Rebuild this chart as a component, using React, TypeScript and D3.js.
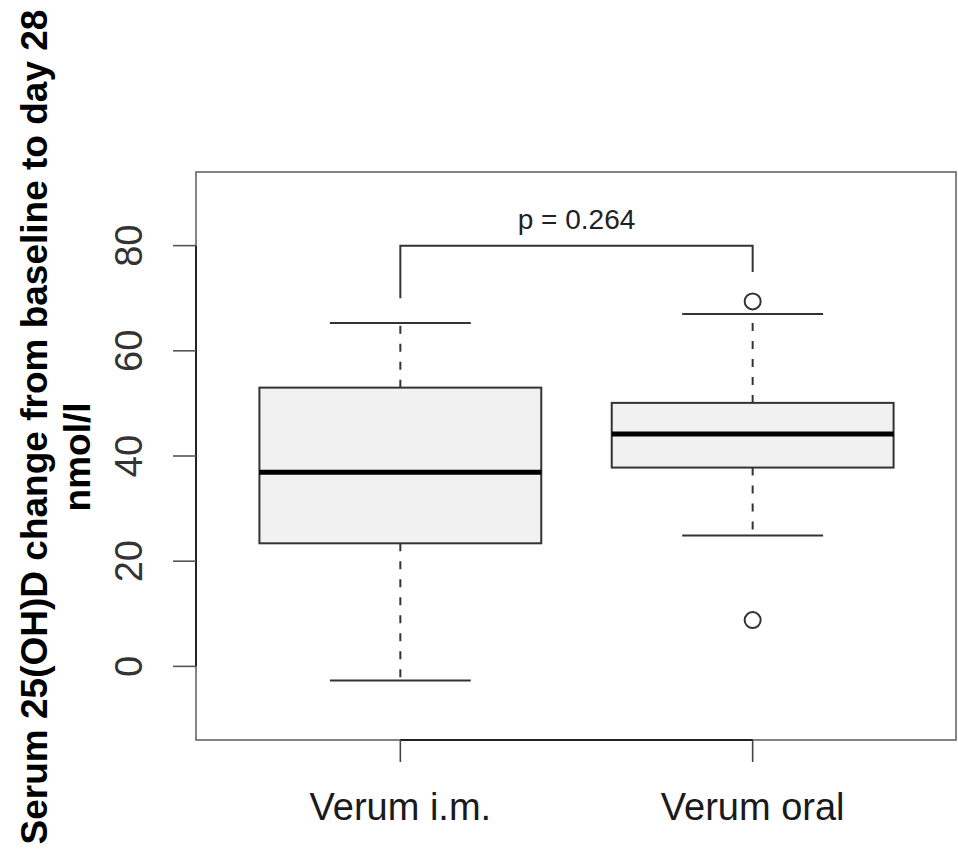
import React from "react";
import * as d3 from "d3";

const categories = ["Verum i.m.", "Verum oral"];
const whiskerLow = [-2.7, 24.9];
const q1 = [23.4, 37.8];
const median = [36.9, 44.2];
const q3 = [53.0, 50.1];
const whiskerHigh = [65.3, 67.0];
const outliers: number[][] = [[], [69.4, 8.8]];
const yTicks = [0, 20, 40, 60, 80];
const pLabel = "p = 0.264";
const bracketTop = 80;
const bracketLegs = [70, 75];
const pLabelY = 85;
const yTitle1 = "Serum 25(OH)D change from baseline to day 28";
const yTitle2 = "nmol/l";

const W = 958;
const H = 849;
const left = 196;
const right = 957;
const top = 172;
const bottom = 740;

export default function App() {
  const x = d3.scaleLinear().domain([0.42, 2.58]).range([left, right]);
  const y = d3.scaleLinear().domain([-14, 94]).range([bottom, top]);
  const unit = x(2) - x(1);
  const halfBox = 0.4 * unit;
  const halfCap = 0.2 * unit;
  const font = "'Liberation Sans', Arial, Helvetica, sans-serif";
  const dark = "#222";
  return (
    <svg
      width={W}
      height={H}
      style={{ position: "absolute", left: 0, top: 0, background: "#fff" }}
      fontFamily={font}
    >
      <rect x={0} y={0} width={W} height={H} fill="#fff" />
      {/* plot frame */}
      <rect
        x={left}
        y={top}
        width={right - left - 1}
        height={bottom - top}
        fill="none"
        stroke="#666"
        strokeWidth={1.6}
      />
      {/* y axis */}
      <line x1={left} x2={left} y1={y(yTicks[0])} y2={y(yTicks[yTicks.length - 1])} stroke={dark} strokeWidth={2} />
      {yTicks.map((t) => (
        <g key={t}>
          <line x1={left - 23} x2={left} y1={y(t)} y2={y(t)} stroke="#555" strokeWidth={1.6} />
          <text
            transform={`translate(${142},${y(t)}) rotate(-90)`}
            textAnchor="middle"
            fontSize={38}
            fill="#333"
          >
            {t}
          </text>
        </g>
      ))}
      {/* x axis */}
      <line x1={x(1)} x2={x(2)} y1={bottom} y2={bottom} stroke={dark} strokeWidth={2} />
      {categories.map((c, i) => (
        <g key={c}>
          <line x1={x(i + 1)} x2={x(i + 1)} y1={bottom} y2={bottom + 22} stroke="#444" strokeWidth={1.6} />
          <text x={x(i + 1)} y={820} textAnchor="middle" fontSize={38} fill="#1a1a1a">
            {c}
          </text>
        </g>
      ))}
      {/* boxes */}
      {categories.map((c, i) => {
        const cx = x(i + 1);
        return (
          <g key={"b" + c}>
            <line x1={cx} x2={cx} y1={y(q3[i])} y2={y(whiskerHigh[i])} stroke="#333" strokeWidth={2} strokeDasharray="8,10" />
            <line x1={cx} x2={cx} y1={y(q1[i])} y2={y(whiskerLow[i])} stroke="#333" strokeWidth={2} strokeDasharray="8,10" />
            <line x1={cx - halfCap} x2={cx + halfCap} y1={y(whiskerHigh[i])} y2={y(whiskerHigh[i])} stroke="#333" strokeWidth={2} />
            <line x1={cx - halfCap} x2={cx + halfCap} y1={y(whiskerLow[i])} y2={y(whiskerLow[i])} stroke="#333" strokeWidth={2} />
            <rect
              x={cx - halfBox}
              y={y(q3[i])}
              width={2 * halfBox}
              height={y(q1[i]) - y(q3[i])}
              fill="#f1f1f1"
              stroke="#333"
              strokeWidth={2}
            />
            <line x1={cx - halfBox} x2={cx + halfBox} y1={y(median[i])} y2={y(median[i])} stroke="#000" strokeWidth={5} />
            {outliers[i].map((o, k) => (
              <circle key={k} cx={cx} cy={y(o)} r={8} fill="none" stroke="#333" strokeWidth={2} />
            ))}
          </g>
        );
      })}
      {/* p-value bracket */}
      <path
        d={`M${x(1)},${y(bracketLegs[0])}V${y(bracketTop)}H${x(2)}V${y(bracketLegs[1])}`}
        fill="none"
        stroke="#333"
        strokeWidth={2}
      />
      <text x={(x(1) + x(2)) / 2} y={y(pLabelY) + 9.5} textAnchor="middle" fontSize={28} fill="#222">
        {pLabel}
      </text>
      {/* y title */}
      <text
        transform={`translate(${47},${427}) rotate(-90)`}
        textAnchor="middle"
        fontSize={37}
        fontWeight="bold"
        fill="#000"
      >
        {yTitle1}
      </text>
      <text
        transform={`translate(${90},${457}) rotate(-90)`}
        textAnchor="middle"
        fontSize={37}
        fontWeight="bold"
        fill="#000"
      >
        {yTitle2}
      </text>
    </svg>
  );
}
